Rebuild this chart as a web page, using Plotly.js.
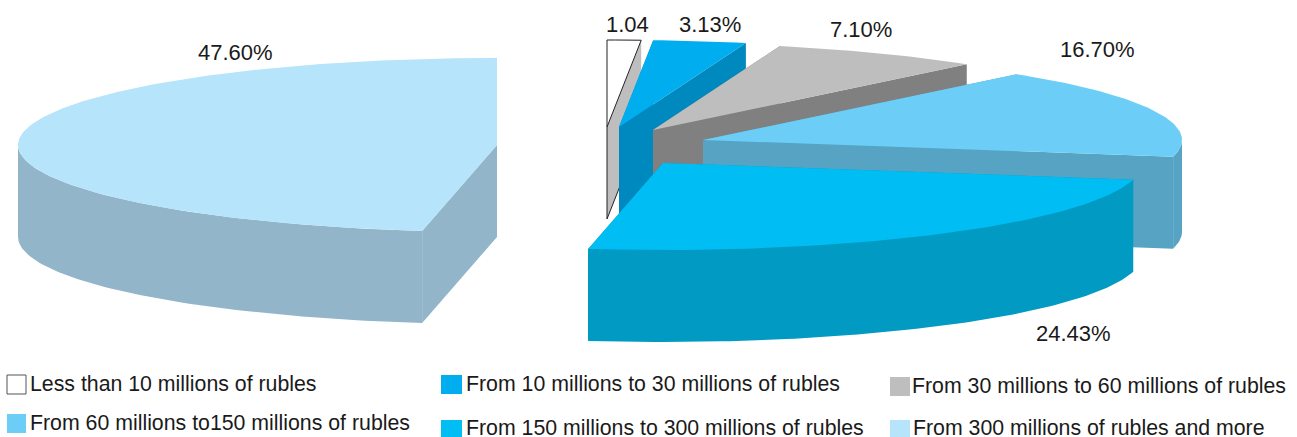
<!DOCTYPE html>
<html><head><meta charset="utf-8">
<script src="https://cdn.plot.ly/plotly-3.0.1.min.js"></script>
<style>html,body{margin:0;padding:0;background:#fff;overflow:hidden}#c{width:1297px;height:437px}</style>
</head><body><div id="c"></div>
<script>
// Data
const categories = ["Less than 10 millions of rubles","From 10 millions to 30 millions of rubles","From 30 millions to 60 millions of rubles","From 60 millions to150 millions of rubles","From 150 millions to 300 millions of rubles","From 300 millions of rubles and more"];
const shares = [1.04,3.13,7.10,16.70,24.43,47.60];
const valueLabels = ["1.04","3.13%","7.10%","16.70%","24.43%","47.60%"];
// Colours
const topColors = ["#ffffff","#00aeef","#bebebe","#6ccef7","#00bdf4","#b6e4fa"];
const wallColors = ["#bebebe","#0089bf","#808080","#56a3c4","#009ac3","#92b5ca"];
// Layout of the exploded 3-D pie (pixel frame)
const apexX = [607,619,653,703,663,497];
const apexY = [127,127,130,140,163,145];
const RX = 479, RY = 87, DEPTH = 92, ROTATION = 0.35;
const labelX = [627,710,861,1097,1073,235];
const labelY = [24,24,29,49,333,52];
const legendCols = [[7,26,28,384,375,394],[441,462,464,384,375,394],[890,910,910,386,377,396],[7,26,28,423,414,433],[441,462,464,428,420,438],[890,910,911,428,420,438]];

const traces = [];
function rim(i,a){const r=a*Math.PI/180;return [apexX[i]+RX*Math.sin(r),apexY[i]-RY*Math.cos(r)];}
function poly(pts,color){
  traces.push({type:'scatter',mode:'lines',x:pts.map(p=>p[0]),y:pts.map(p=>p[1]),fill:'toself',fillcolor:color,line:{width:0,color:color},hoverinfo:'skip',showlegend:false});
}
function outline(pts,color,w){
  traces.push({type:'scatter',mode:'lines',x:pts.map(p=>p[0]),y:pts.map(p=>p[1]),line:{width:w,color:color},hoverinfo:'skip',showlegend:false});
}
let cum=0;
shares.forEach((v,i)=>{
  const a0=cum*3.6+(i===0?0:ROTATION), a1=Math.min((cum+v)*3.6+ROTATION,360); cum+=v;
  const apex=[apexX[i],apexY[i]];
  const down=p=>[p[0],p[1]+DEPTH];
  const s=rim(i,a0), e=rim(i,a1);
  const arc=[]; for(let k=0;k<=Math.ceil(a1-a0);k++){arc.push(rim(i,Math.min(a0+k,a1)));}
  poly([apex,s,down(s),down(apex)],wallColors[i]);
  poly([apex,e,down(e),down(apex)],wallColors[i]);
  const fa0=Math.max(a0,90), fa1=Math.min(a1,270);
  if(fa1>fa0){
    const fr=[];for(let a=fa0;a<fa1;a+=1)fr.push(rim(i,a));fr.push(rim(i,fa1));
    poly(fr.concat(fr.slice().reverse().map(down)),wallColors[i]);
  }
  poly([apex].concat(arc),topColors[i]);
  if(i===0){
    outline([apex].concat(arc).concat([apex]),'#222',1);
    outline([apex,down(apex),down(e)],'#222',1);
  }
});

const shapes = categories.map((c,i)=>{
  const L=legendCols[i];
  return {type:'rect',xref:'x',yref:'y',x0:L[0],x1:L[1],y0:L[4],y1:L[5],fillcolor:topColors[i],line:{width:i===0?1:0,color:'#555'}};
});
const annotations = categories.map((c,i)=>{
  const L=legendCols[i];
  return {xref:'x',yref:'y',x:L[2],y:L[3],text:c,showarrow:false,xanchor:'left',yanchor:'middle',font:{family:'Liberation Sans',size:21.3,color:'#1a1a1a'}};
}).concat(valueLabels.map((t,i)=>({xref:'x',yref:'y',x:labelX[i],y:labelY[i],text:t,showarrow:false,xanchor:'center',yanchor:'middle',font:{family:'Liberation Sans',size:22,color:'#1a1a1a'}})));

Plotly.newPlot('c',traces,{
  width:1297,height:437,margin:{l:0,r:0,t:0,b:0},paper_bgcolor:'#fff',plot_bgcolor:'#fff',showlegend:false,
  xaxis:{range:[0,1297],visible:false,fixedrange:true},
  yaxis:{range:[437,0],visible:false,fixedrange:true},
  shapes,annotations
},{staticPlot:true,displayModeBar:false});
</script></body></html>
